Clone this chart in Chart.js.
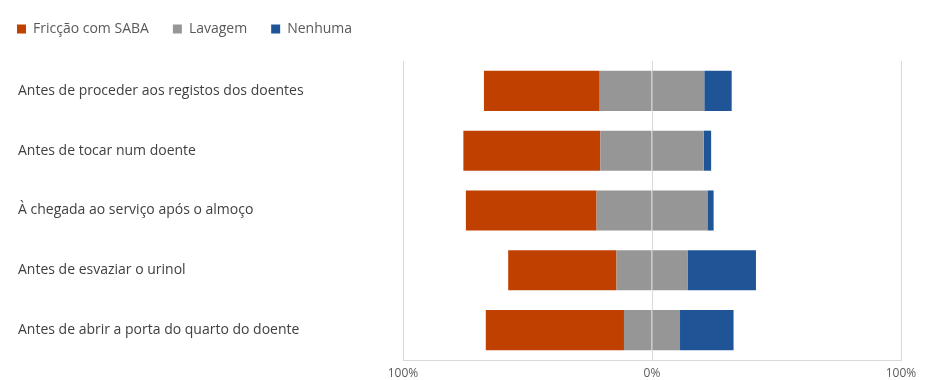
<!DOCTYPE html>
<html>
<head>
<meta charset="utf-8">
<script src="https://cdn.jsdelivr.net/npm/chart.js@4"></script>
<style>
  html, body { margin: 0; padding: 0; background: #fff; }
  #wrap { width: 947px; height: 380px; }
</style>
</head>
<body>
<div id="wrap"><canvas id="handChart"></canvas></div>
<script>
const categories = [
    'Antes de proceder aos registos dos doentes',
    'Antes de tocar num doente',
    'À chegada ao serviço após o almoço',
    'Antes de esvaziar o urinol',
    'Antes de abrir a porta do quarto do doente'
];
const saba = [46.5, 55, 52.5, 43.5, 55.5];
const lavagem = [42, 41.5, 44.5, 28.5, 22.5];
const nenhuma = [11, 3, 2.5, 27.5, 21.5];
const tickValues = [-100, 0, 100];

const legendOrder = ['Fricção com SABA', 'Lavagem', 'Nenhuma'];

// legend sits in the top-left corner, chart area starts below it
const legendPlacement = {
    id: 'legendPlacement',
    beforeLayout(chart) {
        if (chart.legend && !chart.legend._patched) {
            chart.legend._patched = true;
            chart.legend.afterFit = function () { this.height = 50; };
        }
    },
    afterLayout(chart) {
        if (chart.legend) {
            chart.legend.left = 17 - 24;
            chart.legend.top = -2;
        }
    }
};

document.addEventListener("DOMContentLoaded", function () {
    const ctx = document.getElementById('handChart').getContext('2d');
    Chart.defaults.font.family = "'Open Sans', 'Noto Sans', sans-serif";

    new Chart(ctx, {
        type: 'bar',
        data: {
            labels: categories,
            datasets: [
                {
                    label: 'Lavagem',
                    data: lavagem.map(v => -v / 2),
                    backgroundColor: '#969696'
                },
                {
                    label: 'Fricção com SABA',
                    data: saba.map(v => -v),
                    backgroundColor: '#c04000'
                },
                {
                    label: 'Lavagem',
                    data: lavagem.map(v => v / 2),
                    backgroundColor: '#969696',
                    hideInLegend: true
                },
                {
                    label: 'Nenhuma',
                    data: nenhuma,
                    backgroundColor: '#1f5597'
                }
            ]
        },
        options: {
            indexAxis: 'y',
            responsive: true,
            maintainAspectRatio: false,
            animation: false,
            layout: {
                padding: { left: 18, right: 46, top: 13, bottom: 0 }
            },
            datasets: {
                bar: { categoryPercentage: 1, barPercentage: 0.67 }
            },
            scales: {
                x: {
                    stacked: true,
                    min: -100,
                    max: 100,
                    z: 1,
                    afterBuildTicks: function (scale) {
                        scale.ticks = tickValues.map(v => ({ value: v }));
                    },
                    afterFit: function (scale) { scale.height = 20; },
                    ticks: {
                        color: '#595959',
                        font: { size: 12 },
                        padding: 6,
                        callback: v => Math.abs(v) + '%'
                    },
                    grid: { color: '#d9d9d9', drawTicks: false },
                    border: { display: true, color: '#d9d9d9' }
                },
                y: {
                    stacked: true,
                    afterFit: function (scale) { scale.width = 385; },
                    ticks: {
                        crossAlign: 'far',
                        color: '#404040',
                        font: { size: 14 }
                    },
                    grid: { display: false },
                    border: { display: false }
                }
            },
            plugins: {
                legend: {
                    position: 'top',
                    align: 'start',
                    labels: {
                        boxWidth: 9,
                        boxHeight: 9,
                        padding: 24,
                        color: '#595959',
                        font: { size: 14 },
                        filter: (item, data) => !data.datasets[item.datasetIndex].hideInLegend,
                        sort: (a, b) => legendOrder.indexOf(a.text) - legendOrder.indexOf(b.text)
                    }
                },
                tooltip: { enabled: false }
            }
        },
        plugins: [legendPlacement]
    });
});
</script>
</body>
</html>
